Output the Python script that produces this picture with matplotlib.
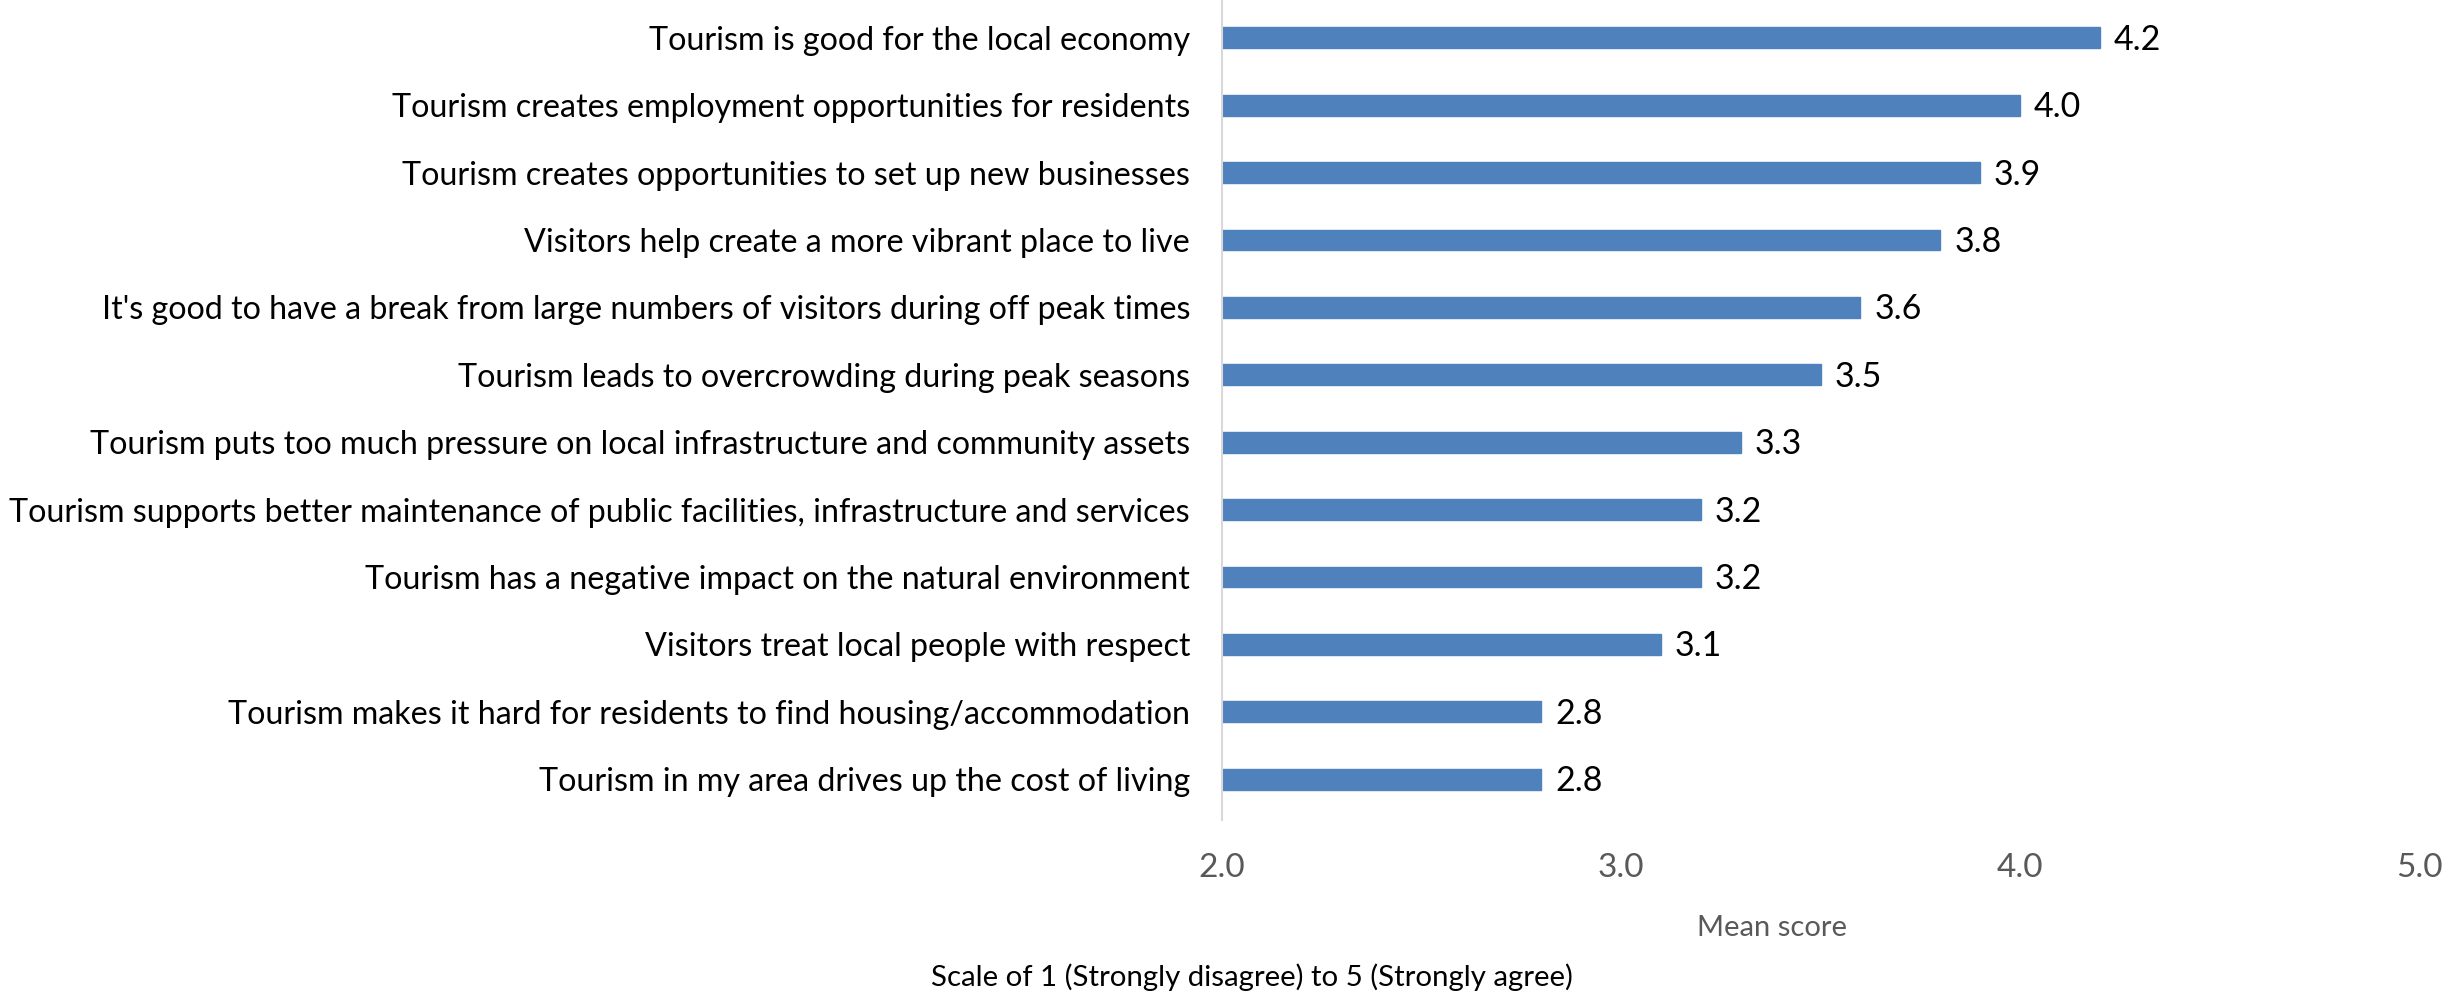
import matplotlib
matplotlib.use("Agg")
import matplotlib.pyplot as plt
import numpy as np

categories = [
    "Tourism is good for the local economy",
    "Tourism creates employment opportunities for residents",
    "Tourism creates opportunities to set up new businesses",
    "Visitors help create a more vibrant place to live",
    "It's good to have a break from large numbers of visitors during off peak times",
    "Tourism leads to overcrowding during peak seasons",
    "Tourism puts too much pressure on local infrastructure and community assets",
    "Tourism supports better maintenance of public facilities, infrastructure and services",
    "Tourism has a negative impact on the natural environment",
    "Visitors treat local people with respect",
    "Tourism makes it hard for residents to find housing/accommodation",
    "Tourism in my area drives up the cost of living",
]
values = [4.2, 4.0, 3.9, 3.8, 3.6, 3.5, 3.3, 3.2, 3.2, 3.1, 2.8, 2.8]
xticks = [2.0, 3.0, 4.0, 5.0]

plt.rcParams['font.family'] = ['Lato', 'DejaVu Sans']

W, H = 2463, 1000
fig = plt.figure(figsize=(W / 100, H / 100), dpi=100)
left, right = 1222, 2419
top, bottom = 4, 813
ax = fig.add_axes([left / W, 1 - bottom / H, (right - left) / W, (bottom - top) / H])

y = np.arange(len(categories))
ax.barh(y, [v - 2.0 for v in values], left=2.0, height=0.31, color="#4F81BD",
        edgecolor="#4F81BD")
for yi, v in zip(y, values):
    ax.text(v + 0.035, yi + 0.03, f"{v:.1f}", va="center", ha="left", fontsize=24.5, color="black")

ax.set_xlim(2.0, 5.0)
ax.set_ylim(len(categories) - 0.5, -0.5)
ax.set_yticks(y)
ax.set_yticklabels(categories, fontsize=23.2, color="black")
ax.set_xticks(xticks)
ax.set_xticklabels([f"{t:.1f}" for t in xticks], fontsize=24, color="#595959")
ax.tick_params(axis="y", length=0, pad=23)
ax.tick_params(axis="x", length=0, pad=29)
for s in ["top", "right", "bottom"]:
    ax.spines[s].set_visible(False)
ax.spines["left"].set_color("#D9D9D9")
ax.spines["left"].set_linewidth(1.5)
ax.spines["left"].set_bounds(len(categories) - 0.4, -0.6)

fig.text(1772 / W, 1 - 928 / H, "Mean score", ha="center", va="center",
         fontsize=21, color="#595959")
fig.text(1252 / W, 1 - 977 / H, "Scale of 1 (Strongly disagree) to 5 (Strongly agree)",
         ha="center", va="center", fontsize=21.2, color="black")

fig.savefig("out.png", dpi=100)
